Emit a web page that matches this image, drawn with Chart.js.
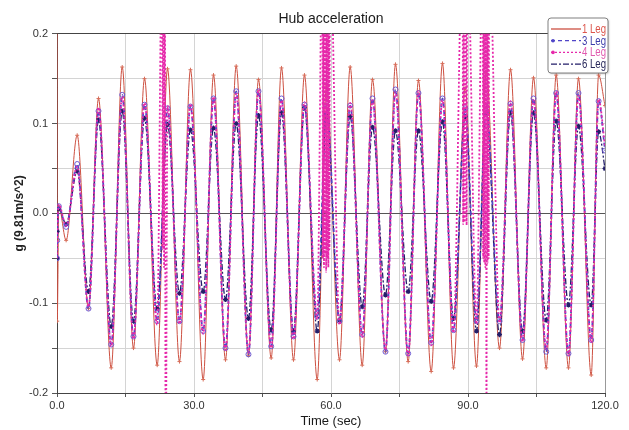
<!DOCTYPE html>
<html>
<head>
<meta charset="utf-8">
<script src="https://cdn.jsdelivr.net/npm/chart.js@4.4.0/dist/chart.umd.min.js"></script>
<style>
  html, body { margin: 0; padding: 0; background: #fff; }
  #wrap { width: 629px; height: 430px; }
</style>
</head>
<body>
<div id="wrap"><canvas id="hub" width="629" height="430"></canvas></div>
<script>
// Data: start transient, then alternating peaks / troughs
const timeSec = [0, 0.05, 0.4, 2.0,
  4.42, 6.9, 9.09, 11.87, 14.28, 16.75, 19.16, 21.94, 24.2, 26.82, 29.23, 32.01,
  34.27, 36.9, 39.24, 41.93, 44.12, 46.9, 49.16, 51.79, 54.19, 56.98, 59.01, 61.86,
  64.2, 66.83, 69.09, 71.93, 74.12, 76.9, 79.15, 81.94, 84.41, 86.83, 89.39, 91.86,
  93.99, 96.9, 99.31, 101.94, 104.34, 107.13, 109.31, 112.0, 114.19, 116.98, 118.6,
  120];

const leg1 = [0.25, -0.12, 0.008, -0.03,
  0.087, -0.106, 0.128, -0.172, 0.163, -0.15, 0.15, -0.169, 0.161, -0.165, 0.16, -0.185,
  0.154, -0.163, 0.164, -0.158, 0.149, -0.161, 0.162, -0.163, 0.154, -0.185, 0.142, -0.163,
  0.163, -0.169, 0.149, -0.154, 0.166, -0.165, 0.148, -0.176, 0.167, -0.172, 0.14, -0.17,
  0.158, -0.15, 0.16, -0.162, 0.151, -0.172, 0.154, -0.172, 0.15, -0.18, 0.154,
  0.12];

const leg3 = [-0.05, -0.03, 0.008, -0.015,
  0.055, -0.106, 0.114, -0.146, 0.132, -0.137, 0.121, -0.12, 0.117, -0.12, 0.119, -0.131,
  0.128, -0.15, 0.136, -0.157, 0.136, -0.148, 0.128, -0.137, 0.121, -0.115, 0.12, -0.12,
  0.12, -0.135, 0.128, -0.154, 0.138, -0.156, 0.134, -0.144, 0.128, -0.13, 0.117, -0.12,
  0.119, -0.12, 0.122, -0.141, 0.128, -0.154, 0.134, -0.156, 0.134, -0.141, 0.125,
  0.07];

const leg4 = [-0.05, -0.03, 0.01, -0.014,
  0.052, -0.104, 0.118, -0.148, 0.13, -0.14, 0.123, -0.124, 0.12, -0.123, 0.122, -0.134,
  0.13, -0.152, 0.133, -0.155, 0.138, -0.15, 0.126, -0.14, 0.124, -0.118, 0.12, -0.124,
  0.123, -0.138, 0.126, -0.152, 0.135, -0.158, 0.136, -0.147, 0.126, -0.133, 0.12, -0.123,
  0.12, -0.122, 0.125, -0.143, 0.126, -0.151, 0.136, -0.158, 0.131, -0.144, 0.127,
  0.075];

const leg6 = [-0.05, -0.02, 0.005, -0.012,
  0.047, -0.087, 0.104, -0.126, 0.114, -0.12, 0.106, -0.106, 0.099, -0.089, 0.093, -0.087,
  0.095, -0.096, 0.1, -0.117, 0.109, -0.13, 0.112, -0.131, 0.118, -0.131, 0.11, -0.119,
  0.108, -0.104, 0.096, -0.091, 0.092, -0.087, 0.092, -0.098, 0.102, -0.117, 0.108, -0.131,
  0.112, -0.135, 0.112, -0.131, 0.112, -0.119, 0.103, -0.102, 0.097, -0.102, 0.091,
  0.05];

// 4 Leg bursts that run off the scale
const leg4SpikeTimes = [23.0, 23.15, 23.3, 23.45, 23.6, 23.8,
  58.1, 58.22, 58.34, 58.46, 58.58, 58.7, 58.82, 58.94, 59.06, 59.18, 59.3, 59.42, 59.54, 59.66, 59.78,
  88.8, 88.95, 89.1, 89.25, 89.55, 89.7, 89.85,
  93.2, 93.32, 93.44, 93.56, 93.68, 93.8, 93.92, 94.04, 94.16, 94.28, 94.4, 94.52, 94.64];
const leg4SpikeValues = [0.3, -0.04, 0.3, -0.06, 0.3, -0.3,
  0.3, -0.05, 0.3, -0.06, 0.3, -0.045, 0.3, -0.065, 0.3, -0.05, 0.3, -0.06, 0.3, -0.04, 0.3,
  0.3, -0.012, 0.3, -0.01, 0.3, -0.013, 0.3,
  0.3, -0.05, 0.3, -0.055, 0.3, -0.06, 0.3, -0.3, 0.3, -0.055, 0.3, -0.05, 0.3];

const seriesNames = ['1 Leg', '3 Leg', '4 Leg', '6 Leg'];
const xTicks = [0, 30, 60, 90, 120];
const yTicks = [-0.2, -0.1, 0.0, 0.1, 0.2];

const FONT = 'Liberation Sans, Arial, sans-serif';

const toPoints = (xs, ys) => xs.map((x, i) => ({ x, y: ys[i] }));

const leg4Points = toPoints(timeSec, leg4)
  .concat(toPoints(leg4SpikeTimes, leg4SpikeValues))
  .sort((a, b) => a.x - b.x);

// legend box drawn inside the plot, top right
const boxLegend = {
  id: 'boxLegend',
  afterDraw(chart) {
    const ctx = chart.ctx;
    const items = chart.data.datasets;
    const x0 = 548, y0 = 18, w = 60, h = 55;
    ctx.save();
    ctx.shadowColor = 'rgba(0,0,0,0.25)';
    ctx.shadowOffsetX = 1;
    ctx.shadowOffsetY = 1;
    ctx.shadowBlur = 2;
    ctx.fillStyle = '#fff';
    ctx.beginPath();
    ctx.roundRect(x0, y0, w, h, 3);
    ctx.fill();
    ctx.shadowColor = 'transparent';
    ctx.strokeStyle = '#808080';
    ctx.lineWidth = 1;
    ctx.stroke();

    ctx.font = '12px ' + FONT;
    ctx.textBaseline = 'middle';
    ctx.textAlign = 'left';
    items.forEach((ds, i) => {
      const y = y0 + 11 + i * 11.7;
      ctx.strokeStyle = ds.borderColor;
      ctx.lineWidth = 1.3;
      ctx.setLineDash(ds.borderDash || []);
      ctx.beginPath();
      ctx.moveTo(x0 + 3, y);
      ctx.lineTo(x0 + 33, y);
      ctx.stroke();
      ctx.setLineDash([]);
      if (ds.legendMark) {
        ctx.fillStyle = ds.borderColor;
        ctx.beginPath();
        ctx.arc(x0 + 5, y, 1.8, 0, Math.PI * 2);
        ctx.fill();
      }
      // condensed label, like the narrow font of the original
      ctx.save();
      ctx.translate(x0 + 34, y + 0.5);
      ctx.scale(0.8, 1);
      ctx.fillStyle = ds.textColor;
      ctx.fillText(ds.label, 0, 0);
      ctx.restore();
    });
    ctx.restore();
  }
};

new Chart(document.getElementById('hub').getContext('2d'), {
  type: 'line',
  data: {
    datasets: [
      {
        label: seriesNames[0],
        data: toPoints(timeSec, leg1),
        borderColor: 'rgb(205,80,65)',
        textColor: 'rgb(220,85,75)',
        borderWidth: 1,
        pointStyle: 'cross',
        pointRadius: 2,
        pointBorderColor: 'rgb(215,110,90)',
        pointBorderWidth: 1,
        order: 4
      },
      {
        label: seriesNames[1],
        data: toPoints(timeSec, leg3),
        borderColor: 'rgb(80,70,200)',
        textColor: 'rgb(60,60,170)',
        borderWidth: 1.7,
        borderDash: [4, 3],
        pointStyle: 'circle',
        pointRadius: 2.5,
        pointBackgroundColor: 'rgba(255,255,255,0)',
        pointBorderColor: 'rgb(110,90,210)',
        pointBorderWidth: 1,
        legendMark: true,
        order: 2
      },
      {
        label: seriesNames[2],
        data: leg4Points,
        borderColor: 'rgb(230,40,170)',
        textColor: 'rgb(225,90,175)',
        borderWidth: 1.8,
        borderDash: [2, 2],
        pointRadius: 0,
        legendMark: true,
        order: 1
      },
      {
        label: seriesNames[3],
        data: toPoints(timeSec, leg6),
        borderColor: 'rgb(35,30,105)',
        textColor: 'rgb(40,40,90)',
        borderWidth: 1.3,
        borderDash: [6, 2, 2, 2],
        pointStyle: 'star',
        pointRadius: 2.5,
        pointBorderColor: 'rgb(35,30,105)',
        pointBorderWidth: 1.2,
        order: 3
      }
    ]
  },
  options: {
    responsive: false,
    animation: false,
    layout: { padding: { left: 0, right: 24, top: 0, bottom: 0 } },
    plugins: {
      legend: { display: false },
      tooltip: { enabled: false },
      title: {
        display: true,
        text: 'Hub acceleration',
        fullSize: false,
        color: '#1a1a1a',
        font: { family: FONT, size: 14, weight: 'normal' },
        padding: { top: 11, bottom: 6 }
      }
    },
    elements: {
      line: { cubicInterpolationMode: 'monotone' }
    },
    scales: {
      x: {
        type: 'linear',
        min: 0,
        max: 120,
        afterFit: (scale) => { scale.height = 37; },
        border: { color: '#444', width: 1 },
        grid: {
          color: (c) => (c.tick && c.tick.value === 120 ? '#999' : '#d4d4d4'),
          tickColor: '#555',
          tickLength: 4
        },
        ticks: {
          stepSize: 15,
          autoSkip: false,
          maxRotation: 0,
          padding: 2,
          color: '#333',
          font: { family: FONT, size: 11 },
          callback: (v) => (xTicks.includes(v) ? v.toFixed(1) : '')
        },
        title: {
          display: true,
          text: 'Time (sec)',
          color: '#1a1a1a',
          font: { family: FONT, size: 13 },
          padding: { top: 0, bottom: 1 }
        }
      },
      y: {
        min: -0.2,
        max: 0.2,
        afterFit: (scale) => { scale.width = 57; },
        border: { color: '#444', width: 1 },
        grid: {
          color: (c) => {
            const v = c.tick ? Math.round(c.tick.value * 100) : 1;
            if (v === 0) return '#555';
            if (v === 20) return '#444';
            return '#d4d4d4';
          },
          tickColor: '#555',
          tickLength: 5
        },
        ticks: {
          stepSize: 0.05,
          padding: 4,
          color: '#333',
          font: { family: FONT, size: 11 },
          callback: (v) => {
            const r = Math.round(v * 10) / 10;
            return yTicks.some((t) => Math.abs(t - v) < 1e-6) ? r.toFixed(1) : '';
          }
        },
        title: {
          display: true,
          text: 'g (9.81m/s^2)',
          color: '#222',
          font: { family: FONT, size: 12, weight: 'bold' },
          padding: { top: 12, bottom: 0 }
        }
      }
    }
  },
  plugins: [boxLegend]
});
</script>
</body>
</html>
